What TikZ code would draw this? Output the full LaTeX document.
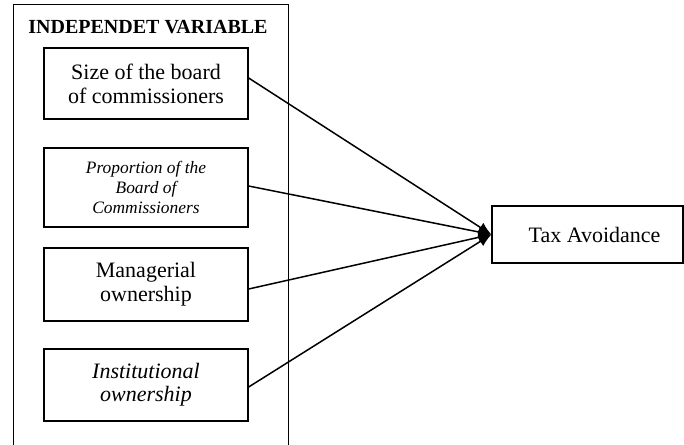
\documentclass[tikz,border=0pt]{standalone}
\usepackage{fontspec}
\setmainfont{Liberation Serif}
\usetikzlibrary{arrows.meta}
\begin{document}
\begin{tikzpicture}[x=1pt,y=-1pt,
  varbox/.style={draw, line width=1.3pt, minimum width=204pt, inner sep=0pt, align=center, font=\fontsize{22}{24}\selectfont},
  conn/.style={line width=1.5pt, -{Latex[length=13pt,width=11pt]}}]
\useasboundingbox (0,0) rectangle (684,444);
\draw[line width=1pt] (13,450) -- (13,5) -- (288,5) -- (288,450);
\node[font=\fontsize{20}{22}\selectfont\bfseries] (title) at (148,27) {INDEPENDET VARIABLE};
\node[varbox, minimum height=71pt] (b1) at (146,83.5) {Size of the board\\of commissioners};
\node[varbox, minimum height=79pt, font=\fontsize{17.4}{20}\selectfont\itshape] (b2) at (146,187.5) {Proportion of the\\Board of\\Commissioners};
\node[varbox, minimum height=73pt] (b3) at (146,284.5) {Managerial\\ownership};
\node[varbox, minimum height=72pt, font=\fontsize{22}{23}\selectfont\itshape] (b4) at (146,385) {Institutional\\ownership};
\node[varbox, minimum width=191pt, minimum height=57pt] (tax) at (587.5,234.5) {\hspace*{14pt}Tax Avoidance};
\draw[conn] ([yshift=5.5pt]b1.east) -- (tax.west);
\draw[conn] ([yshift=1.5pt]b2.east) -- (tax.west);
\draw[conn] ([yshift=-4.5pt]b3.east) -- (tax.west);
\draw[conn] ([yshift=-2pt]b4.east) -- (tax.west);
\end{tikzpicture}
\end{document}
